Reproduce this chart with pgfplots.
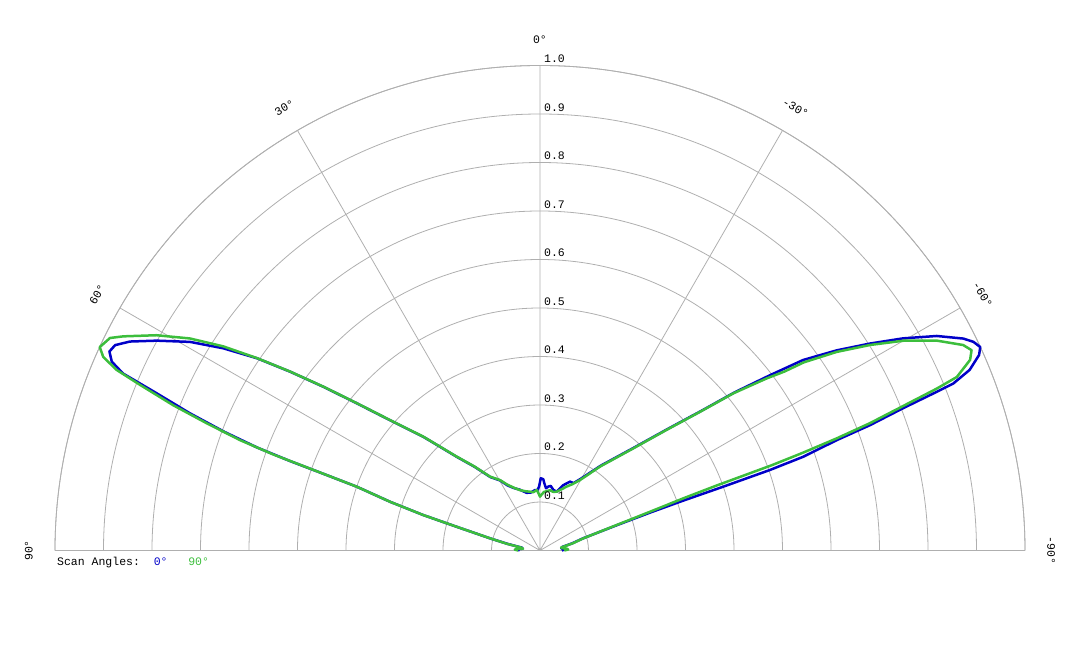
\documentclass[border=0pt]{standalone}
\usepackage{fontspec}
\setmainfont{Liberation Mono}
\usepackage{pgfplots}
\usepackage{pgfplotstable}
\pgfplotsset{compat=1.18}
\usepgfplotslibrary{polar}

\definecolor{scanblue}{RGB}{0,0,200}
\definecolor{scangreen}{RGB}{60,190,60}
\definecolor{gridgray}{RGB}{175,175,175}

% angle in pgfplots polar convention (0 = right, 180 = left), r normalised
\pgfplotstableread{
a r
0 0.045
3 0.052
6 0.044
9.3 0.047
12.5 0.068
15.7 0.091
18.2 0.165
19.0 0.240
19.2 0.314
19.2 0.400
19.3 0.502
19.6 0.576
20.4 0.653
20.8 0.728
21.4 0.804
21.8 0.881
22.0 0.919
22.8 0.961
24.0 0.991
24.8 1.000
25.7 0.992
26.6 0.976
28.4 0.930
30.3 0.867
32.1 0.803
34.0 0.738
35.9 0.670
37.3 0.597
39.1 0.517
40.9 0.439
43.6 0.363
47.6 0.287
54.4 0.215
60.4 0.170
63.6 0.155
66.4 0.155
70.4 0.143
74.1 0.126
77.6 0.128
80.6 0.135
82.5 0.133
84.5 0.129
86.5 0.140
87.3 0.147
89.4 0.149
90.8 0.132
92.5 0.124
94.7 0.125
99.0 0.121
103.0 0.122
108.3 0.132
112.9 0.140
116.5 0.150
119.6 0.166
124.1 0.183
128.0 0.219
131.6 0.258
135.7 0.335
139.0 0.409
141.2 0.484
142.9 0.559
144.4 0.633
145.8 0.705
147.45 0.775
149.2 0.840
151.3 0.901
153.0 0.949
154.2 0.973
155.2 0.978
156.2 0.965
157.0 0.934
157.7 0.854
158.6 0.775
159.4 0.695
160.0 0.620
160.3 0.550
160.5 0.474
160.8 0.400
162.0 0.325
163.1 0.252
164.1 0.179
166.3 0.106
168.5 0.068
171.0 0.038
174.0 0.036
177.0 0.047
180.0 0.042
}\scanzero

\pgfplotstableread{
a r
0 0.050
2 0.058
4 0.055
6 0.046
8 0.044
9.3 0.049
12.5 0.070
15.7 0.093
18.4 0.167
19.4 0.240
20.0 0.314
20.2 0.389
20.2 0.462
20.2 0.510
20.4 0.579
20.7 0.654
21.1 0.729
21.7 0.806
22.2 0.884
22.6 0.931
23.9 0.970
24.9 0.981
25.9 0.970
27.9 0.925
30.0 0.865
31.9 0.802
33.8 0.736
35.5 0.668
36.2 0.625
37.2 0.587
39.1 0.514
40.9 0.437
43.6 0.361
47.6 0.285
54.4 0.213
60.4 0.167
64.0 0.152
67.3 0.143
70.5 0.134
74.1 0.126
77.5 0.124
80.6 0.126
86.1 0.121
88.5 0.115
90.0 0.111
91.5 0.118
93.1 0.125
96.5 0.121
99.7 0.123
104.0 0.126
108.3 0.131
112.9 0.141
116.5 0.152
119.6 0.167
124.1 0.184
128.0 0.220
131.6 0.259
135.7 0.336
139.0 0.410
141.2 0.485
142.9 0.560
144.4 0.634
145.8 0.706
147.2 0.777
148.8 0.844
150.7 0.907
152.8 0.966
153.7 0.989
155.2 1.000
156.1 0.985
156.9 0.949
157.5 0.893
158.4 0.813
159.1 0.736
159.8 0.659
160.2 0.584
160.4 0.504
160.8 0.400
162.0 0.325
163.1 0.252
164.1 0.179
166.3 0.106
168.5 0.070
171.0 0.040
174.0 0.035
176.0 0.048
178.0 0.052
180.0 0.045
}\scanninety

\begin{document}
\begin{tikzpicture}[font=\fontsize{11.5}{13}\selectfont]
\begin{polaraxis}[
    scale only axis,
    width=970pt, height=970pt,
    xmin=0, xmax=180,
    ymin=0, ymax=1,
    xtick={0,30,...,180},
    xticklabels={-90°,-60°,-30°,0°,30°,60°,90°},
    xticklabel style={rotate=\tick-90, anchor=south, inner sep=0pt, yshift=22pt},
    ytick={0.1,0.2,...,1.0},
    yticklabels={},
    grid=major,
    major grid style={gridgray, line width=0.8pt},
    axis line style={gridgray, line width=0.8pt},
    tick style={draw=none},
    clip=false,
]
    \addplot[scanblue, line width=2.5pt, line join=round, no marks] table[x=a, y=r] {\scanzero};
    \addplot[scangreen, line width=2.5pt, line join=round, no marks] table[x=a, y=r] {\scanninety};

    \pgfplotsinvokeforeach{0.1,0.2,0.3,0.4,0.5,0.6,0.7,0.8,0.9,1.0}{
        \node[anchor=south west, inner sep=0pt, xshift=4pt, yshift=2.5pt] at (axis cs:90,#1) {#1};
    }
    \node[anchor=base west, inner sep=0pt, xshift=2pt, yshift=-15pt] at (axis cs:180,1)
        {Scan Angles:~~\textcolor{scanblue}{0°}~~~\textcolor{scangreen}{90°}};
    \coordinate (O) at (axis cs:0,0);
\end{polaraxis}
\pgfresetboundingbox
\path[use as bounding box] (O) ++(-540pt,-97.5pt) rectangle ++(1080pt,648pt);
\end{tikzpicture}
\end{document}
